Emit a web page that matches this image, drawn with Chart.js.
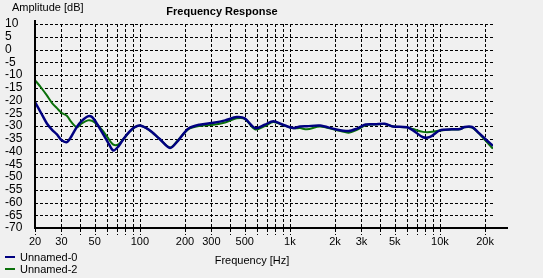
<!DOCTYPE html>
<html>
<head>
<meta charset="utf-8">
<script src="https://cdn.jsdelivr.net/npm/chart.js@4.4.0/dist/chart.umd.min.js"></script>
<style>
  html, body { margin: 0; padding: 0; background: #f0f0f0; }
  #wrap { width: 543px; height: 278px; }
</style>
</head>
<body>
<div id="wrap"><canvas id="freqChart" width="543" height="278"></canvas></div>
<script>
// frequencies (Hz) the two curves were read at
const freqs = [20, 22, 24, 26, 28, 30, 32.6, 35, 38, 41, 45, 48, 52, 56, 61, 66.5, 72, 78, 85, 92,
  100, 115, 135, 159, 180, 210, 250, 310, 370, 442, 500, 586, 680, 776, 900,
  1054, 1170, 1300, 1590, 2010, 2460, 2800, 3200, 3700, 4290, 4870, 6040, 6620, 7720, 8600,
  10000, 12000, 13600, 14600, 16400, 18000, 20000, 22600];

const unnamed0 = [-20.6, -25, -29, -31.5, -33.3, -35.5, -36.3, -34, -30.4, -28, -26.2, -26.5, -29.3, -32.5, -36.2, -39.6, -38, -35, -32.3, -30.5,
  -29.8, -31.5, -35, -38.6, -35.7, -31.1, -29.5, -28.7, -27.8, -26.5, -27, -30.8, -29.5, -28.1, -29.5,
  -30.8, -30.2, -30.1, -29.8, -31.3, -32, -31, -29.4, -29.3, -29.1, -30.2, -30.5, -31.7, -34.4, -34.3,
  -31.7, -31.3, -31.2, -30.4, -30.4, -32.5, -35, -37.8];

const unnamed2 = [-12, -15, -18, -21, -23, -24.8, -26, -28.5, -30.5, -29, -27.8, -28, -29.5, -31.5, -34.5, -37.3, -37.2, -35, -32.4, -30.6,
  -29.8, -31.5, -35, -38.4, -35.5, -31.3, -30, -29.5, -28.6, -27, -27.2, -31.3, -30, -28.4, -29.6,
  -30.9, -30.8, -31.3, -30.2, -31.5, -32.6, -31.5, -29.7, -29.4, -29.2, -30.2, -30.5, -31.2, -32.3, -32.4,
  -31.8, -31.4, -31.3, -30.5, -30.6, -32.7, -35.5, -38.9];

// vertical grid lines and the ones that get a label
const gridFreqs = [20, 30, 40, 50, 60, 70, 80, 90, 100, 200, 300, 400, 500, 600, 700, 800, 900,
  1000, 2000, 3000, 4000, 5000, 6000, 7000, 8000, 9000, 10000, 20000];
const labelFreqs = [20, 30, 50, 100, 200, 300, 500, 1000, 2000, 3000, 5000, 10000, 20000];
const labelTexts = ['20', '30', '50', '100', '200', '300', '500', '1k', '2k', '3k', '5k', '10k', '20k'];

const freqMin = 20, freqMax = 22600;
const dbMin = -70, dbMax = 10, dbStep = 5;

const FONT = 'Liberation Sans, Arial, sans-serif';

const pts = ys => freqs.map((f, i) => ({ x: f, y: ys[i] }));

// dashed grid placed by the scales, drawn under the curves
const dashGrid = {
  id: 'dashGrid',
  beforeDatasetsDraw(chart) {
    const { ctx, chartArea: a, scales } = chart;
    ctx.save();
    ctx.strokeStyle = '#000';
    ctx.lineWidth = 1;
    ctx.setLineDash([3, 2]);
    gridFreqs.forEach(f => {
      const x = Math.round(scales.x.getPixelForValue(f)) + 0.5;
      ctx.beginPath();
      ctx.moveTo(x, a.top);
      ctx.lineTo(x, a.bottom + 7);
      ctx.stroke();
    });
    scales.y.ticks.forEach(t => {
      const y = Math.round(scales.y.getPixelForValue(t.value)) + 0.5;
      ctx.beginPath();
      ctx.moveTo(a.left, y);
      ctx.lineTo(a.right, y);
      ctx.stroke();
    });
    ctx.restore();
  }
};

// axis lines, titles and the stacked legend
const overlay = {
  id: 'overlay',
  afterDraw(chart) {
    const { ctx, chartArea } = chart;
    ctx.save();
    ctx.strokeStyle = '#000';
    ctx.lineWidth = 2;
    ctx.beginPath();
    ctx.moveTo(chartArea.left, chartArea.top - 4);
    ctx.lineTo(chartArea.left, chartArea.bottom);
    ctx.lineTo(chartArea.right + 15, chartArea.bottom);
    ctx.stroke();

    ctx.fillStyle = '#000';
    ctx.textBaseline = 'middle';
    ctx.textAlign = 'left';
    ctx.font = '11px ' + FONT;
    ctx.fillText('Amplitude [dB]', 12, 8);
    ctx.textAlign = 'center';
    ctx.fillText('Frequency [Hz]', 252, 261);
    ctx.font = 'bold 11px ' + FONT;
    ctx.fillText('Frequency Response', 222, 12);

    ctx.textAlign = 'left';
    ctx.font = '11px ' + FONT;
    chart.data.datasets.forEach((ds, i) => {
      const y = 257 + i * 12;
      ctx.strokeStyle = ds.borderColor;
      ctx.lineWidth = 2;
      ctx.beginPath();
      ctx.moveTo(5, y);
      ctx.lineTo(15, y);
      ctx.stroke();
      ctx.fillText(ds.label, 20, y + 1);
    });
    ctx.restore();
  }
};

new Chart(document.getElementById('freqChart'), {
  type: 'line',
  data: {
    datasets: [{
      label: 'Unnamed-0',
      data: pts(unnamed0),
      borderColor: '#000080',
      borderWidth: 2.5,
      pointRadius: 0,
      tension: 0.3
    }, {
      label: 'Unnamed-2',
      data: pts(unnamed2),
      borderColor: '#0a700a',
      borderWidth: 2,
      pointRadius: 0,
      tension: 0.3
    }]
  },
  options: {
    responsive: false,
    animation: false,
    layout: { padding: { left: 5, right: 50, top: 24, bottom: 0 } },
    plugins: {
      legend: { display: false },
      title: { display: false },
      tooltip: { enabled: false }
    },
    scales: {
      x: {
        type: 'logarithmic',
        min: freqMin,
        max: freqMax,
        afterBuildTicks: s => { s.ticks = gridFreqs.map(v => ({ value: v })); },
        afterFit: s => { s.height = 50; },
        grid: { display: false, drawTicks: false },
        border: { display: false },
        ticks: {
          autoSkip: false,
          maxRotation: 0,
          padding: 7,
          color: '#000',
          font: { family: FONT, size: 11 },
          callback: v => {
            const i = labelFreqs.indexOf(v);
            return i >= 0 ? labelTexts[i] : '';
          }
        }
      },
      y: {
        min: dbMin,
        max: dbMax,
        afterFit: s => { s.width = 30; },
        grid: { display: false, drawTicks: false },
        border: { display: false },
        ticks: {
          stepSize: dbStep,
          autoSkip: false,
          crossAlign: 'far',
          padding: 0,
          color: '#000',
          font: { family: FONT, size: 12 }
        }
      }
    }
  },
  plugins: [dashGrid, overlay]
});
</script>
</body>
</html>
